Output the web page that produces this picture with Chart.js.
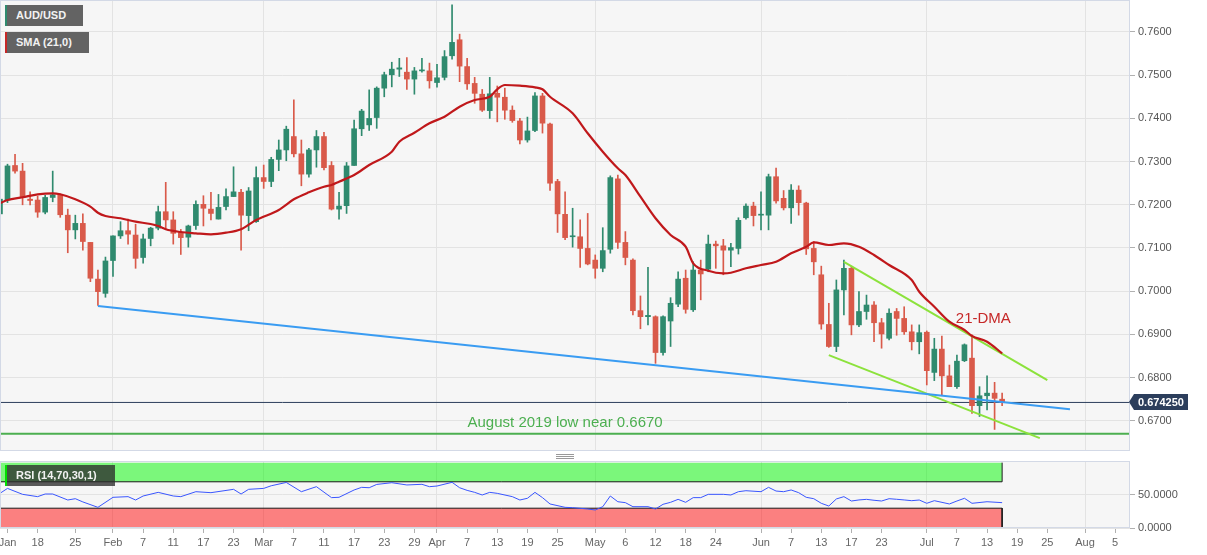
<!DOCTYPE html>
<html>
<head>
<meta charset="utf-8">
<script src="https://cdn.jsdelivr.net/npm/chart.js@4.4.1/dist/chart.umd.min.js"></script>
<style>
html,body{margin:0;padding:0;background:#fff;}
#wrap{position:relative;width:1207px;height:555px;overflow:hidden;font-family:"Liberation Sans",Arial,sans-serif;}
canvas{position:absolute;left:0;}
.tag{position:absolute;left:5px;height:21px;font:bold 11px "Liberation Sans",Arial,sans-serif;line-height:21px;color:#f2f2f2;padding-left:9px;box-sizing:border-box;white-space:nowrap;}
#split{position:absolute;left:556px;top:454px;width:18px;height:5px;border-top:1px solid #999;border-bottom:1px solid #999;box-sizing:border-box;}
#split:after{content:"";position:absolute;left:0;right:0;top:1px;height:1px;background:#999;}
</style>
</head>
<body>
<div id="wrap">
  <canvas id="main" width="1207" height="452" style="top:0"></canvas>
  <canvas id="rsi" width="1207" height="99" style="top:456px"></canvas>
  <div id="split"></div>
  <div class="tag" style="top:5px;width:78px;background:#636363;border-left:2px solid #2f8a6e">AUD/USD</div>
  <div class="tag" style="top:32px;width:84px;background:#636363;border-left:2px solid #c62828">SMA (21,0)</div>
  <div class="tag" style="top:465px;width:110px;background:rgba(45,45,45,0.78);border-left:2px solid #00e000">RSI (14,70,30,1)</div>
</div>
<script>
// ---------- data (trading-day index: 0 = 12 Jan 2022) ----------
const firstIndex = -1;
const candleOpen = [
0.7179,0.7211,0.7291,0.7278,0.7213,0.7211,0.7183,0.7217,0.7223,0.7176,
0.7142,0.7157,0.7113,0.7028,0.6995,0.7071,0.7128,0.7140,0.7130,0.7078,
0.7122,0.7146,0.7184,0.7165,0.7136,0.7125,0.7152,0.7201,0.7190,0.7167,
0.7196,0.7219,0.7229,0.7175,0.7161,0.7263,0.7254,0.7305,0.7327,0.7358,
0.7318,0.7271,0.7327,0.7358,0.7291,0.7190,0.7198,0.7291,0.7376,0.7385,
0.7402,0.7470,0.7501,0.7514,0.7507,0.7491,0.7510,0.7510,0.7483,0.7495,
0.7545,0.7582,0.7520,0.7481,0.7456,0.7418,0.7458,0.7449,0.7419,0.7394,
0.7350,0.7372,0.7452,0.7387,0.7254,0.7178,0.7126,0.7126,0.7099,0.7072,
0.7053,0.7097,0.7260,0.7113,0.7072,0.6955,0.6941,0.6941,0.6858,0.6931,
0.6970,0.7030,0.6957,0.7049,0.7051,0.7109,0.7105,0.7095,0.7099,0.7170,
0.7197,0.7176,0.7176,0.7265,0.7215,0.7193,0.7234,0.7204,0.7099,0.7038,
0.6923,0.6872,0.7003,0.7053,0.6922,0.6953,0.6968,0.6927,0.6891,0.6953,
0.6937,0.6906,0.6883,0.6905,0.6812,0.6866,0.6804,0.6779,0.6839,0.6845,
0.6735,0.6758,0.6764,0.6750];
const candleHigh = [
0.7222,0.7294,0.7317,0.7296,0.7230,0.7220,0.7222,0.7278,0.7225,0.7190,
0.7176,0.7179,0.7113,0.7049,0.7079,0.7128,0.7161,0.7167,0.7155,0.7132,
0.7148,0.7197,0.7252,0.7184,0.7143,0.7153,0.7209,0.7221,0.7229,0.7224,
0.7237,0.7288,0.7236,0.7240,0.7288,0.7292,0.7310,0.7350,0.7382,0.7443,
0.7350,0.7331,0.7372,0.7368,0.7300,0.7229,0.7298,0.7396,0.7421,0.7466,
0.7473,0.7507,0.7530,0.7539,0.7541,0.7518,0.7539,0.7528,0.7525,0.7557,
0.7663,0.7595,0.7539,0.7495,0.7467,0.7495,0.7475,0.7470,0.7429,0.7400,
0.7403,0.7460,0.7458,0.7389,0.7259,0.7230,0.7192,0.7165,0.7180,0.7084,
0.7147,0.7267,0.7269,0.7138,0.7075,0.6989,0.7055,0.6943,0.6943,0.6985,
0.7045,0.7049,0.7068,0.7072,0.7130,0.7116,0.7120,0.7111,0.7170,0.7202,
0.7206,0.7230,0.7271,0.7285,0.7233,0.7247,0.7244,0.7206,0.7115,0.7058,
0.6972,0.7026,0.7072,0.7058,0.6999,0.6991,0.6976,0.6937,0.6959,0.6960,
0.6964,0.6922,0.6922,0.6908,0.6891,0.6896,0.6829,0.6852,0.6878,0.6899,
0.6779,0.6804,0.6789,0.6764];
const candleLow = [
0.7156,0.7205,0.7273,0.7200,0.7200,0.7171,0.7179,0.7207,0.7171,0.7089,
0.7121,0.7095,0.7022,0.6967,0.6986,0.7034,0.7122,0.7109,0.7053,0.7065,
0.7105,0.7142,0.7143,0.7109,0.7085,0.7102,0.7143,0.7151,0.7165,0.7167,
0.7188,0.7219,0.7095,0.7140,0.7159,0.7238,0.7242,0.7279,0.7302,0.7311,
0.7244,0.7264,0.7287,0.7281,0.7188,0.7167,0.7180,0.7291,0.7360,0.7372,
0.7377,0.7450,0.7473,0.7497,0.7467,0.7456,0.7507,0.7470,0.7472,0.7489,
0.7537,0.7485,0.7467,0.7435,0.7416,0.7400,0.7392,0.7398,0.7391,0.7341,
0.7345,0.7369,0.7366,0.7233,0.7136,0.7119,0.7102,0.7055,0.7061,0.7030,
0.7045,0.7088,0.7099,0.7061,0.6945,0.6913,0.6922,0.6833,0.6852,0.6872,
0.6964,0.6949,0.6953,0.6980,0.7045,0.7053,0.7038,0.7057,0.7086,0.7167,
0.7151,0.7142,0.7142,0.7204,0.7188,0.7157,0.7176,0.7085,0.7038,0.6912,
0.6870,0.6860,0.6945,0.6899,0.6918,0.6935,0.6883,0.6868,0.6887,0.6898,
0.6900,0.6864,0.6855,0.6783,0.6793,0.6760,0.6779,0.6775,0.6837,0.6717,
0.6710,0.6725,0.6680,0.6735];
const candleClose = [
0.7213,0.7290,0.7278,0.7219,0.7210,0.7183,0.7217,0.7223,0.7177,0.7142,
0.7157,0.7115,0.7030,0.6999,0.7070,0.7128,0.7140,0.7132,0.7076,0.7121,
0.7146,0.7184,0.7165,0.7134,0.7124,0.7151,0.7201,0.7192,0.7180,0.7194,
0.7219,0.7230,0.7176,0.7232,0.7263,0.7254,0.7305,0.7327,0.7375,0.7318,
0.7271,0.7327,0.7358,0.7286,0.7190,0.7197,0.7290,0.7376,0.7417,0.7400,
0.7470,0.7501,0.7514,0.7517,0.7491,0.7510,0.7511,0.7487,0.7494,0.7543,
0.7576,0.7521,0.7480,0.7458,0.7419,0.7457,0.7449,0.7419,0.7395,0.7350,
0.7371,0.7452,0.7389,0.7250,0.7179,0.7124,0.7128,0.7099,0.7063,0.7053,
0.7094,0.7263,0.7113,0.7078,0.6955,0.6941,0.6944,0.6858,0.6941,0.6972,
0.7028,0.6958,0.7049,0.7040,0.7109,0.7105,0.7095,0.7101,0.7164,0.7197,
0.7175,0.7178,0.7265,0.7209,0.7193,0.7234,0.7205,0.7098,0.7068,0.6924,
0.6872,0.7003,0.7053,0.6922,0.6953,0.6968,0.6927,0.6901,0.6949,0.6937,
0.6906,0.6883,0.6904,0.6816,0.6866,0.6804,0.6779,0.6838,0.6876,0.6735,
0.6758,0.6764,0.6752,0.67425];

// 21-day SMA
const smaX = [-1,0,2,4,6,7,9,11,12,13,15,17,19,20,21,23,25,27,29,31,33,36,38,40,42,43,44,46,48,51,52,54,56,58,60,62,64,65,66,68,70,71,72,75,77,79,81,82,84,86,88,90,91,93,95,96,98,100,102,104,106,107,109,111,113,115,117,120,121,123,125,127,128,130,132];
const smaY = [0.72035,0.72111,0.72174,0.72243,0.72266,0.72243,0.72127,0.71956,0.71817,0.71741,0.71688,0.71609,0.71556,0.71509,0.71433,0.7137,0.7134,0.71317,0.71354,0.71433,0.71648,0.7188,0.72127,0.72289,0.72419,0.72458,0.72535,0.7269,0.72921,0.73229,0.73461,0.73669,0.73887,0.74039,0.74271,0.74426,0.74502,0.74674,0.74773,0.74757,0.7472,0.74674,0.74502,0.74118,0.73655,0.73229,0.72845,0.7269,0.72188,0.71688,0.71301,0.7103,0.70646,0.70474,0.70414,0.70428,0.7053,0.70606,0.70683,0.70877,0.7103,0.71132,0.71069,0.71109,0.7103,0.70838,0.70606,0.70259,0.69988,0.69641,0.69294,0.69102,0.68963,0.68831,0.68562];

// RSI(14)
const rsiX = [-1,0,2,4,5,6,8,9,10,12,14,16,17,18,20,22,23,25,27,30,31,32,34,35,37,39,41,43,44,46,47,48,49,51,53,55,56,57,59,60,61,62,63,64,65,67,68,69,70,71,72,74,75,77,78,79,80,81,82,83,85,86,87,88,89,90,91,92,93,95,96,97,98,100,101,102,103,104,105,106,107,108,109,110,111,112,113,114,115,116,117,118,119,120,121,122,123,125,126,127,128,130,132];
const rsiV = [52.5,60,51,47.5,51.5,51.5,42.4,44.4,39.5,31.3,46.5,47.5,42.4,48.5,54,48.5,47.5,55,53.5,58.6,51.5,58.6,60,64,69,55,62.6,46,46.5,57.6,61.6,61,66,68.6,65.2,66.2,62.6,63.6,69.2,61,57,54,50,54,52.5,47.5,42.4,45,54,46,36.4,31.3,30.8,28.8,27.3,32.3,48.5,39.8,38.4,32.3,32.3,28.8,35.9,38.9,43.4,38.9,46,46,51,51,50,55,56.5,55,61.6,56,55,57.6,53.5,46.5,44.4,37.4,33.3,44,47.5,40.9,42.5,43.4,42,40.9,44.4,43.5,42.5,41.4,42.4,37.4,41.4,36.4,40.9,45,37.4,39.8,38.4];
const rsiUpper = 70, rsiLower = 30, rsiTop = 99;

// axis ticks
const priceTicks = [0.67,0.68,0.69,0.70,0.71,0.72,0.73,0.74,0.75,0.76];
const rsiTicks = [0, 50];
const monthTicks = [14,34,57,78,100,122,143];
const dayTickPos = [0,4,9,14,18,22,26,30,34,38,42,46,50,54,57,61,65,69,73,78,82,86,90,94,100,104,108,112,116,122,126,130,134,138,143,147];
const dayTickLabels = ['Jan','18','25','Feb','7','11','17','23','Mar','7','11','17','23','29','Apr','7','13','19','25','May','6','12','18','24','Jun','7','13','17','23','Jul','7','13','19','25','Aug','5'];

// drawn studies
const supportX = [12, 141];          const supportY = [0.6966, 0.6727];
const wedgeTopX = [111, 138];        const wedgeTopY = [0.7068, 0.6794];
const wedgeBottomX = [109, 137];     const wedgeBottomY = [0.6852, 0.6660];
const aug2019Low = 0.6670;
const lastPrice = 0.67425;
const labels = {
  dma: {text: '21-DMA', x: 129.5, y: 0.6936},
  low: {text: 'August 2019 low near 0.6670', x: 74, y: 0.6670}
};

// ---------- helpers ----------
const FONT = '"Liberation Sans", Arial, sans-serif';
const UP = '#2f8a6e', DOWN = '#d95a4a';
const X_MIN = -0.995, X_MAX = 148.97;
const Y_MIN = 0.663009, Y_MAX = 0.767407;

const idx = candleOpen.map((_, k) => firstIndex + k);
const candleColors = idx.map((_, k) => candleClose[k] >= candleOpen[k] ? UP : DOWN);
const bodyData = idx.map((x, k) => ({x, y: [candleOpen[k], candleClose[k]]}));
const wickData = idx.map((x, k) => ({x, y: [candleLow[k], candleHigh[k]]}));
const pairs = (xs, ys) => xs.map((x, k) => ({x, y: ys[k]}));
const lastX = idx[idx.length - 1];
const tickLabelOf = {};
dayTickPos.forEach((p, k) => tickLabelOf[p] = dayTickLabels[k]);

const areaPlugin = {
  id: 'area',
  beforeDraw(chart) {
    const {ctx, chartArea: a} = chart;
    ctx.save();
    ctx.fillStyle = '#f6f6f6';
    ctx.fillRect(a.left, a.top, a.right - a.left, a.bottom - a.top);
    ctx.restore();
  },
  afterDraw(chart) {
    const {ctx, chartArea: a} = chart;
    ctx.save();
    ctx.strokeStyle = '#d3d9e6';
    ctx.lineWidth = 1;
    ctx.strokeRect(a.left + 0.5, a.top + 0.5, a.right - a.left - 1, a.bottom - a.top - 1);
    ctx.restore();
  }
};

const notePlugin = {
  id: 'notes',
  afterDatasetsDraw(chart) {
    const {ctx, scales: {x, y}} = chart;
    ctx.save();
    ctx.textAlign = 'center';
    ctx.textBaseline = 'middle';
    ctx.font = '15px ' + FONT;
    ctx.fillStyle = '#c62828';
    ctx.fillText(labels.dma.text, x.getPixelForValue(labels.dma.x), y.getPixelForValue(labels.dma.y));
    ctx.fillStyle = '#4caf50';
    ctx.fillText(labels.low.text, x.getPixelForValue(labels.low.x), y.getPixelForValue(labels.low.y) - 11);
    ctx.restore();
  },
  afterDraw(chart) {
    const {ctx, scales: {y}, chartArea: a} = chart;
    const py = Math.round(y.getPixelForValue(lastPrice));
    ctx.save();
    ctx.fillStyle = '#2c3e5c';
    ctx.beginPath();
    ctx.moveTo(a.right - 1, py);
    ctx.lineTo(a.right + 4, py - 8);
    ctx.lineTo(a.right + 58, py - 8);
    ctx.lineTo(a.right + 58, py + 8);
    ctx.lineTo(a.right + 4, py + 8);
    ctx.closePath();
    ctx.fill();
    ctx.fillStyle = '#ffffff';
    ctx.font = 'bold 11px ' + FONT;
    ctx.textAlign = 'left';
    ctx.textBaseline = 'middle';
    ctx.fillText(lastPrice.toFixed(6), a.right + 8, py + 0.5);
    ctx.restore();
  }
};

const lineDs = (data, color, width, order) => ({
  type: 'line', data, borderColor: color, borderWidth: width, pointRadius: 0,
  fill: false, order, tension: 0
});

// ---------- main chart ----------
new Chart(document.getElementById('main'), {
  type: 'line',
  data: {
    datasets: [
      Object.assign(lineDs(pairs(smaX, smaY), '#c0181b', 2.2, 0), {cubicInterpolationMode: 'monotone'}),
      lineDs(pairs(supportX, supportY), '#3a9cf2', 2, 1),
      lineDs(pairs(wedgeTopX, wedgeTopY), '#8ce23c', 2, 1),
      lineDs(pairs(wedgeBottomX, wedgeBottomY), '#8ce23c', 2, 1),
      {type: 'bar', data: bodyData, backgroundColor: candleColors, borderWidth: 0,
       barThickness: 5, grouped: false, minBarLength: 1, order: 3},
      {type: 'bar', data: wickData, backgroundColor: candleColors, borderWidth: 0,
       barThickness: 1, grouped: false, order: 4},
      lineDs([{x: X_MIN, y: lastPrice}, {x: X_MAX, y: lastPrice}], '#2c3e5c', 1, 5),
      lineDs([{x: X_MIN, y: aug2019Low}, {x: X_MAX, y: aug2019Low}], '#4caf50', 2, 5)
    ]
  },
  options: {
    responsive: false, animation: false, devicePixelRatio: 1, events: [],
    layout: {padding: {left: 0, right: 0, top: 0, bottom: 1}},
    plugins: {legend: {display: false}, tooltip: {enabled: false}},
    scales: {
      x: {
        type: 'linear', min: X_MIN, max: X_MAX, offset: false,
        afterBuildTicks: s => { s.ticks = monthTicks.map(v => ({value: v})); },
        ticks: {display: false},
        grid: {color: '#e3e3e3', drawTicks: false, offset: false},
        border: {display: false},
        afterFit: s => { s.height = 0; s.paddingLeft = 0; s.paddingRight = 0; }
      },
      y: {
        type: 'linear', position: 'right', min: Y_MIN, max: Y_MAX,
        afterBuildTicks: s => { s.ticks = priceTicks.map(v => ({value: v})); },
        ticks: {padding: 3, color: '#555', font: {size: 11, family: FONT}, callback: v => v.toFixed(4)},
        grid: {color: '#e3e3e3', tickColor: '#b0b0b0', tickLength: 5},
        border: {display: false},
        afterFit: s => { s.width = 77; s.paddingTop = 0; s.paddingBottom = 0; }
      }
    }
  },
  plugins: [areaPlugin, notePlugin]
});

// ---------- RSI chart ----------
new Chart(document.getElementById('rsi'), {
  type: 'line',
  data: {
    datasets: [
      lineDs(pairs(rsiX, rsiV), '#3a56ff', 1, 0),
      {type: 'line', data: [{x: X_MIN, y: rsiTop}, {x: lastX, y: rsiTop}], borderWidth: 0, pointRadius: 0, fill: false, order: 5},
      {type: 'line', data: [{x: X_MIN, y: rsiUpper}, {x: lastX, y: rsiUpper}], borderWidth: 0, pointRadius: 0,
       fill: '-1', backgroundColor: 'rgba(0,248,0,0.5)', order: 5},
      {type: 'line', data: [{x: X_MIN, y: rsiLower}, {x: lastX, y: rsiLower}], borderWidth: 0, pointRadius: 0,
       fill: 'start', backgroundColor: 'rgba(255,10,10,0.5)', order: 5},
      lineDs([{x: -0.93, y: rsiTop}, {x: -0.93, y: rsiUpper}, {x: lastX, y: rsiUpper}, {x: lastX, y: rsiTop}], '#1a1a1a', 1, 2),
      lineDs([{x: -0.93, y: 0}, {x: -0.93, y: rsiLower}, {x: lastX, y: rsiLower}, {x: lastX, y: 0}], '#1a1a1a', 1, 2)
    ]
  },
  options: {
    responsive: false, animation: false, devicePixelRatio: 1, events: [],
    layout: {padding: {left: 0, right: 0, top: 5, bottom: 0}},
    plugins: {legend: {display: false}, tooltip: {enabled: false}},
    scales: {
      x: {
        type: 'linear', min: X_MIN, max: X_MAX, offset: false,
        afterBuildTicks: s => { s.ticks = dayTickPos.map(v => ({value: v})); },
        ticks: {autoSkip: false, maxRotation: 0, minRotation: 0, padding: 3, color: '#666',
                font: {size: 11, family: FONT}, callback: v => tickLabelOf[v] || ''},
        grid: {color: c => (c.tick && monthTicks.includes(c.tick.value)) ? '#e3e3e3' : 'rgba(0,0,0,0)',
               tickColor: '#b0b0b0', tickLength: 5, drawTicks: true, offset: false},
        border: {display: false},
        afterFit: s => { s.height = 27; s.paddingLeft = 0; s.paddingRight = 0; }
      },
      y: {
        type: 'linear', position: 'right', min: 0, max: 101.5,
        afterBuildTicks: s => { s.ticks = rsiTicks.map(v => ({value: v})); },
        ticks: {padding: 3, color: '#555', font: {size: 11, family: FONT}, callback: v => v.toFixed(4)},
        grid: {color: '#e3e3e3', tickColor: '#b0b0b0', tickLength: 5},
        border: {display: false},
        afterFit: s => { s.width = 77; s.paddingTop = 0; s.paddingBottom = 0; }
      }
    }
  },
  plugins: [areaPlugin]
});
</script>
</body>
</html>
